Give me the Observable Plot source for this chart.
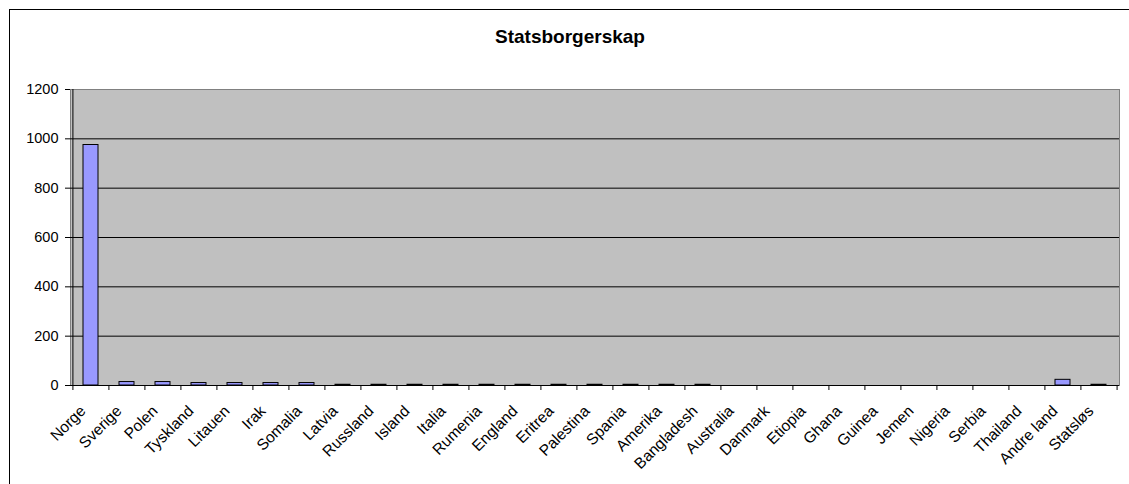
<!DOCTYPE html>
<html>
<head>
<meta charset="utf-8">
<script src="https://cdn.jsdelivr.net/npm/d3@7"></script>
<script src="https://cdn.jsdelivr.net/npm/@observablehq/plot@0.6"></script>
<style>
  html, body { margin: 0; padding: 0; background: #fff; }
  #wrap { position: relative; width: 1129px; height: 484px; overflow: hidden; font-family: "Liberation Sans", Arial, sans-serif; }
  #border { position: absolute; left: 9px; top: 9px; width: 1300px; height: 700px; border: 1px solid #000; box-sizing: border-box; }
  #title { position: absolute; left: 0; top: 27px; width: 1140px; text-align: center; font-weight: bold; font-size: 19px; line-height: 1; color: #000; }
  #chart { position: absolute; left: 0; top: 0; }
</style>
</head>
<body>
<div id="wrap">
  <div id="border"></div>
  <div id="chart"></div>
  <div id="title">Statsborgerskap</div>
</div>
<script>
const categories = ["Norge","Sverige","Polen","Tyskland","Litauen","Irak","Somalia","Latvia","Russland","Island","Italia","Rumenia","England","Eritrea","Palestina","Spania","Amerika","Bangladesh","Australia","Danmark","Etiopia","Ghana","Guinea","Jemen","Nigeria","Serbia","Thailand","Andre land","Statsløs"];
const values = [975,14,14,10,10,10,10,3,3,3,3,3,3,3,3,3,3,3,0,0,0,0,0,0,0,0,0,23,3];
const yTicks = [0,200,400,600,800,1000,1200];

const data = categories.map((c, i) => ({country: c, value: values[i]}));

const W = 1129, H = 484, mL = 70, mR = 10, mT = 89, mB = 99;
const step = (W - mL - mR) / categories.length;

const chart = Plot.plot({
  width: W, height: H,
  marginLeft: mL, marginRight: mR, marginTop: mT, marginBottom: mB,
  style: {background: "transparent", fontFamily: "'Liberation Sans', Arial, sans-serif", fontSize: "14px", color: "#000", overflow: "visible"},
  x: {domain: categories, paddingInner: 0.58, paddingOuter: 0.29, label: null},
  y: {domain: [0, 1200], label: null},
  marks: [
    Plot.frame({fill: "#C0C0C0", stroke: "#808080"}),
    Plot.ruleY(yTicks.filter(v => v > 0 && v < 1200), {stroke: "#000"}),
    Plot.barY(data, {x: "country", y: "value", filter: d => d.value > 0, fill: "#9999FF", stroke: "#000", strokeWidth: 1}),
    Plot.ruleY([0], {stroke: "#000"}),
    Plot.ruleX([categories[0]], {x: d => d, dx: -step / 2, stroke: "#000"}),
    Plot.ruleX(categories, {x: d => d, y1: 0, y2: 0, insetTop: 5, dx: -step / 2, stroke: "#000"}),
    Plot.ruleX([categories[categories.length - 1]], {x: d => d, y1: 0, y2: 0, insetTop: 5, dx: step / 2, stroke: "#000"}),
    Plot.axisY({ticks: yTicks, tickFormat: d => String(d), tickSize: 5, tickPadding: 7, fontSize: 14.5, label: null}),
    Plot.axisX({tickSize: 0, tickPadding: 10, tickRotate: -45, fontSize: 15.5, dx: -8, dy: 13, label: null})
  ]
});
document.getElementById("chart").appendChild(chart);
</script>
</body>
</html>
